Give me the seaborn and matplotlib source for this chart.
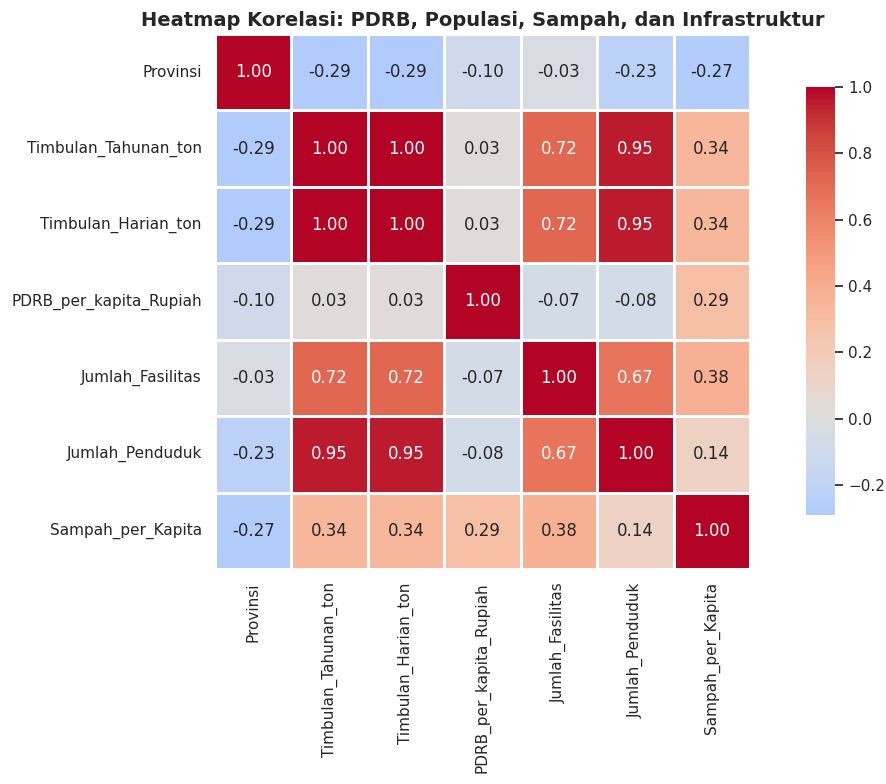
import numpy as np
import pandas as pd
import seaborn as sns
import matplotlib
matplotlib.use("Agg")
import matplotlib.pyplot as plt

sns.set_theme(style="white")

labels = ["Provinsi", "Timbulan_Tahunan_ton", "Timbulan_Harian_ton",
          "PDRB_per_kapita_Rupiah", "Jumlah_Fasilitas", "Jumlah_Penduduk",
          "Sampah_per_Kapita"]

provinsi = [1.00, -0.29, -0.29, -0.10, -0.03, -0.23, -0.27]
tahunan = [-0.29, 1.00, 1.00, 0.03, 0.72, 0.95, 0.34]
harian = [-0.29, 1.00, 1.00, 0.03, 0.72, 0.95, 0.34]
pdrb = [-0.10, 0.03, 0.03, 1.00, -0.07, -0.08, 0.29]
fasilitas = [-0.03, 0.72, 0.72, -0.07, 1.00, 0.67, 0.38]
penduduk = [-0.23, 0.95, 0.95, -0.08, 0.67, 1.00, 0.14]
sampah = [-0.27, 0.34, 0.34, 0.29, 0.38, 0.14, 1.00]

corr = pd.DataFrame([provinsi, tahunan, harian, pdrb, fasilitas, penduduk, sampah],
                    index=labels, columns=labels)

fig = plt.figure(figsize=(8.86, 7.84), dpi=100)
ax = fig.add_axes([0.2427, 0.2730, 0.6038, 0.6850])
cax = fig.add_axes([0.9097, 0.3431, 0.0327, 0.5459])
sns.heatmap(corr, annot=True, fmt=".2f", cmap="coolwarm", center=0,
            linewidths=2, linecolor="white", square=True,
            annot_kws={"size": 12}, ax=ax, cbar_ax=cax)
ax.set_title("Heatmap Korelasi: PDRB, Populasi, Sampah, dan Infrastruktur",
             fontsize=14, fontweight="bold")
fig.savefig("out.png", dpi=100)
